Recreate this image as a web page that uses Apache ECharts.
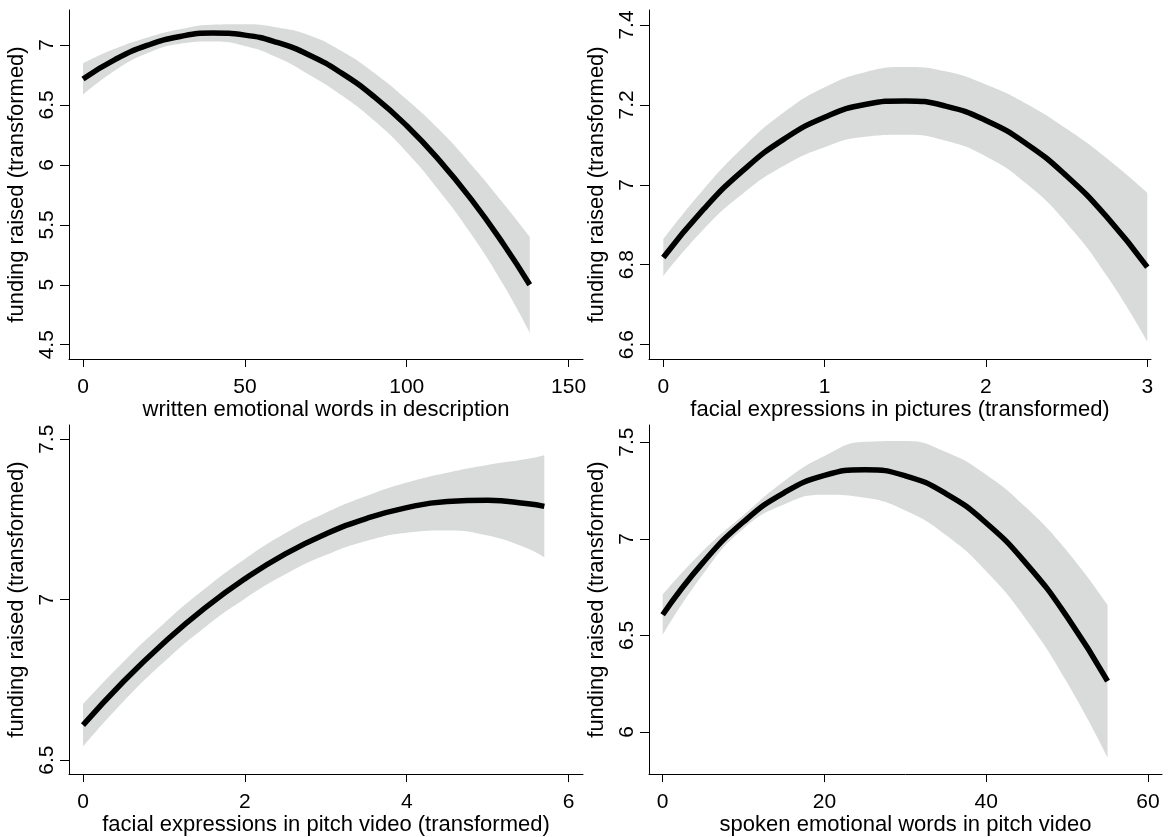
<!DOCTYPE html>
<html>
<head>
<meta charset="utf-8">
<script src="https://cdn.jsdelivr.net/npm/echarts@6/dist/echarts.min.js"></script>
<style>
html,body{margin:0;padding:0;background:#ffffff;}
#chart{width:1168px;height:837px;}
</style>
</head>
<body>
<div id="chart"></div>
<script>
// ---------- text ----------
const yTitle = 'funding raised (transformed)';
const xTitle1 = 'written emotional words in description';
const xTitle2 = 'facial expressions in pictures (transformed)';
const xTitle3 = 'facial expressions in pitch video (transformed)';
const xTitle4 = 'spoken emotional words in pitch video';

// ---------- tick labels ----------
const xTicks1 = [0, 50, 100, 150];
const yTicks1 = [4.5, 5, 5.5, 6, 6.5, 7];
const xTicks2 = [0, 1, 2, 3];
const yTicks2 = [6.6, 6.8, 7, 7.2, 7.4];
const xTicks3 = [0, 2, 4, 6];
const yTicks3 = [6.5, 7, 7.5];
const xTicks4 = [0, 20, 40, 60];
const yTicks4 = [6, 6.5, 7, 7.5];

// ---------- panel 1: written emotional words ----------
const x1     = [0, 10, 20, 30, 40, 50, 60, 70, 80, 90, 100, 110, 120, 130, 138];
const fit1   = [6.717, 6.880, 6.998, 7.071, 7.099, 7.082, 7.021, 6.915, 6.763, 6.567, 6.326, 6.040, 5.710, 5.334, 5.000];
const upper1 = [6.847, 6.970, 7.063, 7.131, 7.169, 7.172, 7.146, 7.080, 6.948, 6.767, 6.546, 6.295, 6.000, 5.674, 5.400];
const lower1 = [6.587, 6.790, 6.933, 7.011, 7.029, 6.992, 6.896, 6.750, 6.578, 6.367, 6.106, 5.785, 5.420, 4.994, 4.600];

// ---------- panel 2: facial expressions in pictures ----------
const x2     = [0, 0.25, 0.5, 0.75, 1, 1.25, 1.5, 1.75, 2, 2.25, 2.5, 2.75, 3];
const fit2   = [6.818, 6.939, 7.038, 7.115, 7.169, 7.201, 7.210, 7.197, 7.161, 7.103, 7.022, 6.919, 6.794];
const upper2 = [6.864, 6.989, 7.096, 7.182, 7.244, 7.282, 7.295, 7.284, 7.251, 7.203, 7.140, 7.066, 6.980];
const lower2 = [6.772, 6.889, 6.980, 7.048, 7.094, 7.120, 7.125, 7.110, 7.071, 7.003, 6.904, 6.772, 6.608];

// ---------- panel 3: facial expressions in pitch video ----------
const x3     = [0, 0.5, 1, 1.5, 2, 2.5, 3, 3.5, 4, 4.5, 5, 5.5, 5.7];
const fit3   = [6.609, 6.745, 6.866, 6.973, 7.065, 7.143, 7.205, 7.253, 7.287, 7.306, 7.310, 7.299, 7.291];
const upper3 = [6.675, 6.807, 6.926, 7.033, 7.127, 7.207, 7.271, 7.323, 7.365, 7.396, 7.420, 7.439, 7.450];
const lower3 = [6.543, 6.683, 6.806, 6.913, 7.003, 7.079, 7.139, 7.183, 7.209, 7.216, 7.200, 7.159, 7.132];

// ---------- panel 4: spoken emotional words ----------
const x4     = [0, 5, 10, 15, 20, 25, 30, 35, 40, 45, 50, 55];
const fit4   = [6.607, 6.878, 7.088, 7.238, 7.328, 7.357, 7.326, 7.234, 7.082, 6.869, 6.596, 6.263];
const upper4 = [6.711, 6.938, 7.123, 7.298, 7.428, 7.502, 7.506, 7.449, 7.332, 7.159, 6.936, 6.658];
const lower4 = [6.503, 6.818, 7.053, 7.178, 7.228, 7.212, 7.146, 7.019, 6.832, 6.579, 6.256, 5.868];

// ---------- layout (positions / ranges) ----------
const FONT = '"Liberation Sans", Arial, Helvetica, sans-serif';
const BAND = '#d9dbdb';
const panels = [
  {grid:{left:69, top:10, width:514, height:349}, xr:[-4.33, 154.45], yr:[4.381, 7.2917],
   xt:xTicks1, yt:yTicks1, xn:xTitle1, x:x1, fit:fit1, up:upper1, lo:lower1},
  {grid:{left:649, top:10, width:502, height:349}, xr:[-0.0887, 3.023], yr:[6.564, 7.4375],
   xt:xTicks2, yt:yTicks2, xn:xTitle2, x:x2, fit:fit2, up:upper2, lo:lower2},
  {grid:{left:69, top:425, width:514, height:350}, xr:[-0.173, 6.178], yr:[6.4565, 7.5445],
   xt:xTicks3, yt:yTicks3, xn:xTitle3, x:x3, fit:fit3, up:upper3, lo:lower3},
  {grid:{left:649, top:425, width:513, height:350}, xr:[-1.69, 61.73], yr:[5.782, 7.589],
   xt:xTicks4, yt:yTicks4, xn:xTitle4, x:x4, fit:fit4, up:upper4, lo:lower4}
];

const grids = [], xAxes = [], yAxes = [], series = [];
panels.forEach((p, i) => {
  grids.push(Object.assign({containLabel:false}, p.grid));
  xAxes.push({
    type:'value', gridIndex:i, min:p.xr[0], max:p.xr[1], z:10,
    name:p.xn, nameLocation:'middle', nameGap:37,
    nameTextStyle:{fontFamily:FONT, fontSize:22, color:'#000'},
    axisLine:{show:true, onZero:false, lineStyle:{color:'#000', width:1}},
    axisTick:{show:true, inside:false, length:8, customValues:p.xt, lineStyle:{color:'#000', width:1}},
    axisLabel:{show:true, customValues:p.xt, margin:18, fontFamily:FONT, fontSize:21, color:'#000'},
    splitLine:{show:false}
  });
  yAxes.push({
    type:'value', gridIndex:i, min:p.yr[0], max:p.yr[1], z:10,
    name:yTitle, nameLocation:'middle', nameGap:41, nameRotate:90,
    nameTextStyle:{fontFamily:FONT, fontSize:22, color:'#000'},
    axisLine:{show:true, onZero:false, lineStyle:{color:'#000', width:1}},
    axisTick:{show:true, inside:false, length:9, customValues:p.yt, lineStyle:{color:'#000', width:1}},
    axisLabel:{show:true, customValues:p.yt, rotate:90, margin:11, fontFamily:FONT, fontSize:21, color:'#000'},
    splitLine:{show:false}
  });
  const n = p.x.length - 1;
  // confidence band: grey area under the upper bound, then white area under the lower bound
  series.push({
    type:'line', xAxisIndex:i, yAxisIndex:i, smooth:true,
    showSymbol:false, silent:true, lineStyle:{width:0, opacity:0},
    areaStyle:{color:BAND, opacity:1, origin:'start'},
    data:p.x.map((v, k) => [v, p.up[k]]), z:1
  });
  series.push({
    type:'line', xAxisIndex:i, yAxisIndex:i, smooth:true,
    showSymbol:false, silent:true, lineStyle:{width:0, opacity:0},
    areaStyle:{color:'#ffffff', opacity:1, origin:'start'},
    data:p.x.map((v, k) => [v, p.lo[k]]), z:2
  });
  // white cover for the anti-aliasing seams at both ends of the band, below the lower bound
  [0, n].forEach(k => {
    series.push({
      type:'line', xAxisIndex:i, yAxisIndex:i, showSymbol:false, silent:true,
      lineStyle:{width:2, color:'#ffffff', cap:'butt'},
      data:[[p.x[k], p.yr[0]], [p.x[k], p.lo[k]]], z:2
    });
  });
  series.push({
    type:'line', xAxisIndex:i, yAxisIndex:i, smooth:true,
    showSymbol:false, silent:true, lineStyle:{width:5.5, color:'#000', cap:'butt'},
    data:p.x.map((v, k) => [v, p.fit[k]]), z:3
  });
});

const chart = echarts.init(document.getElementById('chart'), null, {renderer:'canvas'});
chart.setOption({
  animation:false,
  backgroundColor:'#ffffff',
  textStyle:{fontFamily:FONT},
  grid:grids, xAxis:xAxes, yAxis:yAxes, series:series
});
</script>
</body>
</html>
